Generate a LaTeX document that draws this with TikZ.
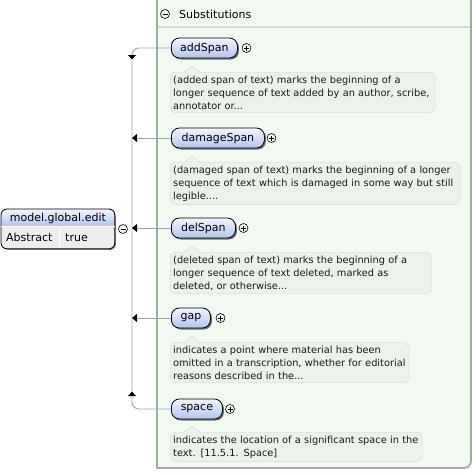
\documentclass[tikz,border=0pt]{standalone}
\usepackage{fontspec}
\setmainfont{DejaVu Sans}
\usetikzlibrary{shadows,arrows.meta,calc}
\definecolor{panelfill}{HTML}{F0FAF0}
\definecolor{panelline}{HTML}{A5A9A5}
\definecolor{descfill}{HTML}{E9F3E9}
\definecolor{descline}{HTML}{D2DED2}
\definecolor{connc}{HTML}{A4A4A4}
\definecolor{nodetop}{HTML}{F2F5FF}
\definecolor{nodebot}{HTML}{B2C4EE}
\definecolor{sepc}{HTML}{D6DCD6}
\definecolor{txtc}{HTML}{1A1A1A}
\begin{document}
\begin{tikzpicture}[x=1pt,y=-1pt,
  elem/.style={draw=black, line width=0.8pt, rounded corners=8pt,
    top color=nodetop, bottom color=nodebot, minimum height=20pt,
    inner sep=0pt, anchor=west, font=\fontsize{11}{12}\selectfont,
    drop shadow={shadow xshift=1.5pt, shadow yshift=-1.5pt, opacity=0.55, fill=black}},
  desc/.style={draw=descline, fill=descfill, rounded corners=6pt, anchor=north west,
    align=left, inner xsep=3pt, inner ysep=3.5pt, text=txtc,
    font=\fontsize{9.8}{13}\selectfont},
  conn/.style={draw=connc, line width=0.9pt},
  tipl/.style={-{Triangle[width=8pt,length=5pt,color=black]}},
  plusc/.style={circle, draw=black, line width=0.6pt, minimum size=9pt, inner sep=0pt,
    path picture={\draw[line width=0.6pt] ([xshift=-2.5pt]path picture bounding box.center) -- ([xshift=2.5pt]path picture bounding box.center)
      ([yshift=-2.5pt]path picture bounding box.center) -- ([yshift=2.5pt]path picture bounding box.center);}},
  minusc/.style={circle, draw=black, line width=0.6pt, minimum size=9pt, inner sep=0pt,
    path picture={\draw[line width=0.6pt] ([xshift=-2.5pt]path picture bounding box.center) -- ([xshift=2.5pt]path picture bounding box.center);}},
  ]
\useasboundingbox (0,0) rectangle (476,474);
\clip (0,0) rectangle (476,474);
% panel
\draw[draw=panelline, line width=1.8pt, fill=panelfill]
  (157,-10) -- (157,468) [rounded corners=7pt] -- (471,468) -- (471,-10);
\draw[sepc, line width=1.5pt] (158,27) -- (470,27);
\node[minusc] (hdrminus) at (165,14) {};
\node[anchor=west, inner sep=0pt, font=\fontsize{11}{12}\selectfont] (hdr) at (179,14) {Substitutions};

% left element
\node[draw=black, line width=0.8pt, rounded corners=6pt, minimum width=113pt, minimum height=39pt,
  anchor=north west, inner sep=0pt, fill=white,
  drop shadow={shadow xshift=1.5pt, shadow yshift=-1.5pt, opacity=0.55, fill=black}] (main) at (1,209) {};
\begin{scope}
\clip[rounded corners=6pt] (main.north west) rectangle (main.south east);
\shade[top color=nodetop, bottom color=nodebot] (main.north west) rectangle ($(main.north east)+(0,17)$);
\fill[white!93!black] ($(main.north west)+(0,17)$) rectangle (main.south east);
\end{scope}
\draw[line width=0.8pt, rounded corners=6pt] (main.north west) rectangle (main.south east);
\draw[line width=0.5pt, white] ($(main.north west)+(0,17)$) -- ($(main.north east)+(0,17)$);
\draw[line width=0.5pt, white] ($(main.north west)+(58,17)$) -- ($(main.north west)+(58,39)$);
\node[inner sep=0pt, font=\fontsize{11}{12}\selectfont] (mainname) at ($(main.north)+(0,9)$) {model.global.edit};
\node[inner sep=0pt, anchor=west, font=\fontsize{11}{12}\selectfont] (abs) at ($(main.north west)+(5,28.5)$) {Abstract};
\node[inner sep=0pt, anchor=west, font=\fontsize{11}{12}\selectfont] (absv) at ($(main.north west)+(64,28.5)$) {true};
\node[minusc] (mainminus) at (123,229) {};

% elements
\node[elem, minimum width=66pt] (addSpan) at (171,48) {addSpan};
\node[elem, minimum width=93pt] (damageSpan) at (171,138) {damageSpan};
\node[elem, minimum width=64pt] (delSpan) at (171,228) {delSpan};
\node[elem, minimum width=39pt] (gap) at (171,318) {gap};
\node[elem, minimum width=51pt] (space) at (171,409) {space};
\node[plusc] (p1) at (246.5,48) {};
\node[plusc] (p2) at (271.5,138) {};
\node[plusc] (p3) at (243.5,228) {};
\node[plusc] (p4) at (220.5,318) {};
\node[plusc] (p5) at (230,409) {};

% descriptions
\node[desc, text width=259pt] (d1) at (170,72) {(added span of text) marks the beginning of a\\longer sequence of text added by an author, scribe,\\annotator or...};
\node[desc, text width=284pt] (d2) at (170,162) {(damaged span of text) marks the beginning of a longer\\sequence of text which is damaged in some way but still\\legible....};
\node[desc, text width=255pt] (d3) at (170,252) {(deleted span of text) marks the beginning of a\\longer sequence of text deleted, marked as\\deleted, or otherwise...};
\node[desc, text width=233pt] (d4) at (170,342) {indicates a point where material has been\\omitted in a transcription, whether for editorial\\reasons described in the...};
\node[desc, text width=246pt] (d5) at (170,432) {indicates the location of a significant space in the\\text. [11.5.1. Space]};
\foreach \d in {d1,d2,d3,d4,d5}{
  \fill[descfill] ($(\d.north west)+(14,0.8)$) -- ($(\d.north west)+(22,-6)$) -- ($(\d.north west)+(30,0.8)$) -- cycle;
  \draw[descline] ($(\d.north west)+(14,0)$) -- ($(\d.north west)+(22,-6)$) -- ($(\d.north west)+(30,0)$);
}

% connectors
\coordinate (j) at (132,228);
\draw[conn, rounded corners=7pt] (addSpan.west) -| (j) |- (space.west);
\draw[conn, tipl] (damageSpan.west) -- (damageSpan.west -| j);
\draw[conn, tipl] (delSpan.west) -- (delSpan.west -| j);
\draw[conn, tipl] (gap.west) -- (gap.west -| j);
\fill[black] ($(j|-addSpan.west)+(-4,7)$) -- ($(j|-addSpan.west)+(4,7)$) -- ($(j|-addSpan.west)+(0,11.5)$) -- cycle;
\fill[black] ($(j|-space.west)+(-4,-13)$) -- ($(j|-space.west)+(4,-13)$) -- ($(j|-space.west)+(0,-17.5)$) -- cycle;
\end{tikzpicture}
\end{document}
